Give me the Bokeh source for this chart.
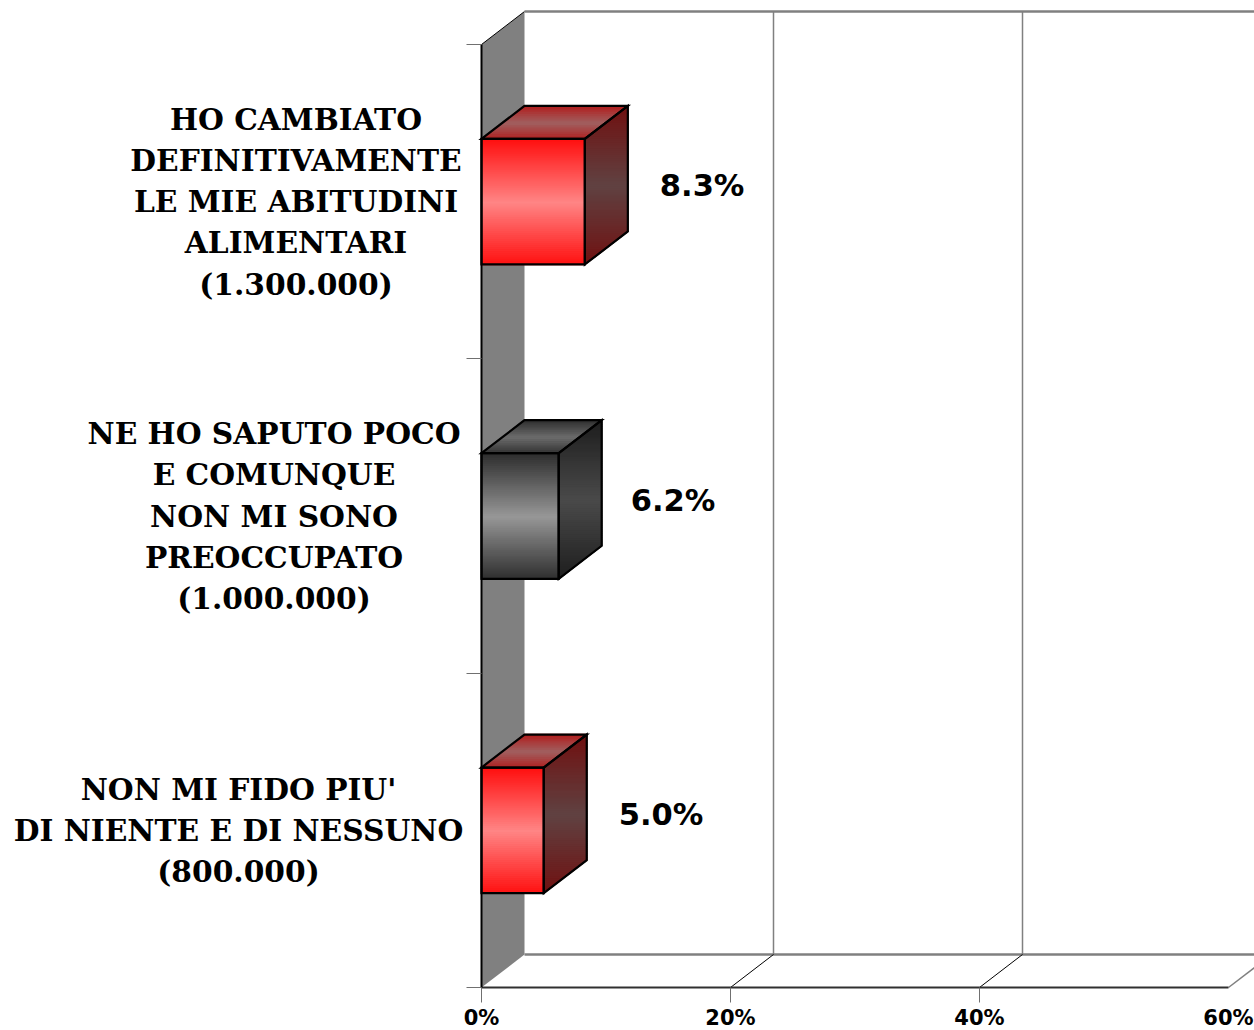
from bokeh.plotting import figure, ColumnDataSource
from bokeh.models import Range1d, LinearAxis, FixedTicker
from bokeh.core.properties import value
from bokeh.embed import file_html
from bokeh.resources import INLINE

# ---- data ----
categories = [
    ["NON MI FIDO PIU'", "DI NIENTE E DI NESSUNO", "(800.000)"],
    ["NE HO SAPUTO POCO", "E COMUNQUE", "NON MI SONO", "PREOCCUPATO", "(1.000.000)"],
    ["HO CAMBIATO", "DEFINITIVAMENTE", "LE MIE ABITUDINI", "ALIMENTARI", "(1.300.000)"],
]
values = [5.0, 6.2, 8.3]
value_labels = ["5.0%", "6.2%", "8.3%"]
palette = ["red", "gray", "red"]
x_ticks = [0, 20, 40, 60]
x_tick_labels = ["0%", "20%", "40%", "60%"]

# face colours (edge, centre)
FACES = {
    "red": {"front": ("#ff0f0f", "#ff8585"), "top": ("#b01f1f", "#a06060"), "side": ("#701010", "#604242")},
    "gray": {"front": ("#2e2e2e", "#979797"), "top": ("#303030", "#6c6c6c"), "side": ("#1e1e1e", "#4a4a4a")},
}

# ---- layout: the frame fills the whole figure ----
W, H = 1254, 1030
PX_X0, PX_Y0 = 481.0, 987.0
PX_PER_PCT = 12.45
PX_PER_BAND = 943.0 / 3
DX = 43 / PX_PER_PCT
DY = 33 / PX_PER_BAND
HALF = 62.8 / PX_PER_BAND


def X(px):
    return (px - PX_X0) / PX_PER_PCT


def Y(py):
    return (PX_Y0 - py) / PX_PER_BAND


p = figure(width=W, height=H, output_backend="svg", toolbar_location=None,
           x_range=Range1d(X(0), X(W)), y_range=Range1d(Y(H), Y(0)),
           x_axis_type=None, y_axis_type=None,
           min_border_left=0, min_border_bottom=0, min_border_top=0, min_border_right=0)
p.outline_line_color = None
p.xgrid.visible = False
p.ygrid.visible = False
p.background_fill_color = "white"
p.border_fill_color = "white"

# ---- wall and floor ----
p.patch([0, DX, DX, 0], [3, 3 + DY, DY, 0], fill_color="#808080", line_color=None)
p.segment([0], [3], [DX], [3 + DY], line_color="black", line_width=1)
p.segment([DX, DX], [3 + DY, DY], [X(W), X(W)], [3 + DY, DY], line_color="#808080", line_width=2.5)
grid_ticks = [20, 40]
p.segment([t + DX for t in grid_ticks], [DY] * 2, [t + DX for t in grid_ticks], [3 + DY] * 2,
          line_color="#808080", line_width=1.5)
p.segment(grid_ticks, [0] * 2, [t + DX for t in grid_ticks], [DY] * 2, line_color="black", line_width=1)
p.segment([60], [0], [60 + DX], [DY], line_color="#808080", line_width=1.5)

# ---- axes ----
xax = LinearAxis(ticker=FixedTicker(ticks=[], minor_ticks=[0, 20, 40]), bounds=(0, 60), fixed_location=0)
xax.major_tick_out = 0
xax.major_tick_in = 0
xax.minor_tick_out = 15
xax.minor_tick_in = 0
xax.minor_tick_line_color = "#707070"
xax.minor_tick_line_width = 1
xax.axis_line_color = "#303030"
xax.axis_line_width = 2
xax.major_label_text_color = None
p.add_layout(xax, "below")

yax = LinearAxis(ticker=FixedTicker(ticks=[], minor_ticks=[0, 1, 2, 3]), bounds=(0, 3), fixed_location=0)
yax.major_tick_out = 0
yax.major_tick_in = 0
yax.minor_tick_out = 15
yax.minor_tick_in = 0
yax.minor_tick_line_color = "#707070"
yax.minor_tick_line_width = 1
yax.axis_line_color = "black"
yax.axis_line_width = 2
yax.major_label_text_color = None
p.add_layout(yax, "left")

p.text(x_ticks, [Y(1017)] * len(x_ticks), text=x_tick_labels, text_font=value("DejaVu Sans"),
       text_font_style="bold", text_font_size="21px", text_color="black",
       text_align="center", text_baseline="middle")


# ---- gradient bars ----
def mix(a, b, t):
    ca = [int(a[i:i + 2], 16) for i in (1, 3, 5)]
    cb = [int(b[i:i + 2], 16) for i in (1, 3, 5)]
    return "#%02x%02x%02x" % tuple(round(u + (v - u) * t) for u, v in zip(ca, cb))


def clip_band(xs, ys, lo, hi):
    def clip(pts, keep, cross):
        out = []
        for i in range(len(pts)):
            a, b = pts[i], pts[(i + 1) % len(pts)]
            if keep(a):
                out.append(a)
            if keep(a) != keep(b):
                t = (cross - a[1]) / (b[1] - a[1])
                out.append((a[0] + (b[0] - a[0]) * t, cross))
        return out
    pts = list(zip(xs, ys))
    pts = clip(pts, lambda q: q[1] >= lo, lo)
    if pts:
        pts = clip(pts, lambda q: q[1] <= hi, hi)
    return pts


def add_face(xs, ys, colours, strips, sink):
    y0, y1 = min(ys), max(ys)
    for k in range(strips):
        lo = y0 + (y1 - y0) * k / strips
        hi = y0 + (y1 - y0) * (k + 1) / strips
        pts = clip_band(xs, ys, lo, hi)
        if len(pts) < 3:
            continue
        t = 1 - abs((k + 0.5) / strips * 2 - 1)
        sink["xs"].append([q[0] for q in pts])
        sink["ys"].append([q[1] for q in pts])
        sink["c"].append(mix(colours[0], colours[1], t))


strips = {"xs": [], "ys": [], "c": []}
edges = {"xs": [], "ys": []}
for i, v in enumerate(values):
    yc = i + 0.5
    b, t = yc - HALF, yc + HALF
    face = FACES[palette[i]]
    front = ([0, v, v, 0], [b, b, t, t])
    side = ([v, v + DX, v + DX, v], [b, b + DY, t + DY, t])
    top = ([0, v, v + DX, DX], [t, t, t + DY, t + DY])
    add_face(*top, face["top"], 18, strips)
    add_face(*side, face["side"], 80, strips)
    add_face(*front, face["front"], 63, strips)
    for poly in (top, side, front):
        edges["xs"].append(poly[0])
        edges["ys"].append(poly[1])

p.patches("xs", "ys", source=ColumnDataSource(strips), fill_color="c", line_color="c", line_width=1.5)
p.patches("xs", "ys", source=ColumnDataSource(edges), fill_color=None, line_color="black",
          line_width=2.2, line_join="miter")

# ---- value labels ----
LABEL_GAPS = [75, 72, 75]
vx = [v + g / PX_PER_PCT for v, g in zip(values, LABEL_GAPS)]
vy = [i + 0.5 + 16 / PX_PER_BAND for i in range(len(values))]
p.text(vx, vy, text=value_labels, text_font=value("DejaVu Sans"), text_font_style="bold",
       text_font_size="30.5px", text_color="black", text_align="left", text_baseline="middle")

# ---- category labels ----
CENTRES = [238, 273.5, 295.5]
PITCH = 41.3
lx, ly, lt = [], [], []
for i, lines in enumerate(categories):
    n = len(lines)
    for j, line in enumerate(lines):
        py = PX_Y0 - (i + 0.5) * PX_PER_BAND + (j - (n - 1) / 2) * PITCH
        lx.append(X(CENTRES[i]))
        ly.append(Y(py))
        lt.append(line)
p.text(lx, ly, text=lt, text_font=value("DejaVu Serif"), text_font_style="bold",
       text_font_size="29.7px", text_color="black", text_align="center", text_baseline="middle")

open("out.html", "w").write(file_html(p, INLINE))
